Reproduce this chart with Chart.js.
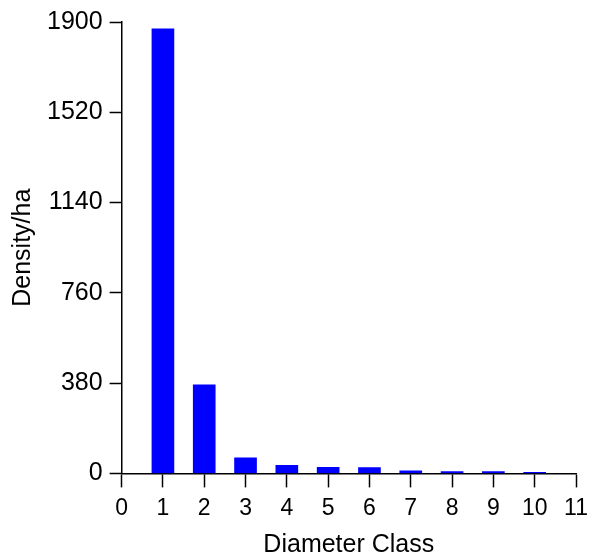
<!DOCTYPE html>
<html>
<head>
<meta charset="utf-8">
<script src="https://cdn.jsdelivr.net/npm/chart.js@4"></script>
<style>
  html, body { margin: 0; padding: 0; background: #fff; }
  #wrap { width: 589px; height: 557px; }
</style>
</head>
<body>
<div id="wrap"><canvas id="myChart"></canvas></div>
<script>
// diameter classes and stem density per hectare
const diameterClasses = [1, 2, 3, 4, 5, 6, 7, 8, 9, 10];
const densityPerHa = [1871, 373, 66, 34, 26, 24, 11, 8, 8, 4];
const yTickValues = [0, 380, 760, 1140, 1520, 1900];
const xTickValues = [0, 1, 2, 3, 4, 5, 6, 7, 8, 9, 10, 11];

const fontFamily = '"Liberation Sans", Arial, Helvetica, sans-serif';

const points = diameterClasses.map((c, i) => ({ x: c, y: densityPerHa[i] }));

const ctx = document.getElementById('myChart');

new Chart(ctx, {
    type: 'bar',
    data: {
        datasets: [{
            label: 'Density/ha',
            data: points,
            backgroundColor: '#0000ff',
            borderWidth: 0,
            barThickness: 22
        }]
    },
    options: {
        responsive: true,
        maintainAspectRatio: false,
        animation: false,
        layout: { padding: { top: 2, right: 0, left: 4, bottom: 0 } },
        plugins: {
            legend: { display: false },
            tooltip: { enabled: false }
        },
        scales: {
            x: {
                type: 'linear',
                min: 0,
                max: 11,
                offset: false,
                afterBuildTicks: axis => { axis.ticks = xTickValues.map(v => ({ value: v })); },
                afterFit: axis => { axis.paddingRight = 13; },
                grid: { offset: false, drawOnChartArea: false, color: '#000', tickLength: 14, tickWidth: 1.5 },
                border: { color: '#000', width: 1.5 },
                ticks: { color: '#000', font: { family: fontFamily, size: 23 }, padding: 7, maxRotation: 0, callback: v => String(v) },
                title: { display: true, text: 'Diameter Class', color: '#000', font: { family: fontFamily, size: 25 }, padding: { top: 1, bottom: -3 } }
            },
            y: {
                min: 0,
                max: 1900,
                afterBuildTicks: axis => { axis.ticks = yTickValues.map(v => ({ value: v })); },
                grid: { drawOnChartArea: false, color: '#000', tickLength: 12, tickWidth: 1.5 },
                border: { color: '#000', width: 1.5 },
                ticks: { color: '#000', font: { family: fontFamily, size: 25 }, padding: 7, callback: v => String(v) },
                title: { display: true, text: 'Density/ha', color: '#000', font: { family: fontFamily, size: 25 }, padding: { bottom: 2 } }
            }
        }
    }
});
</script>
</body>
</html>
